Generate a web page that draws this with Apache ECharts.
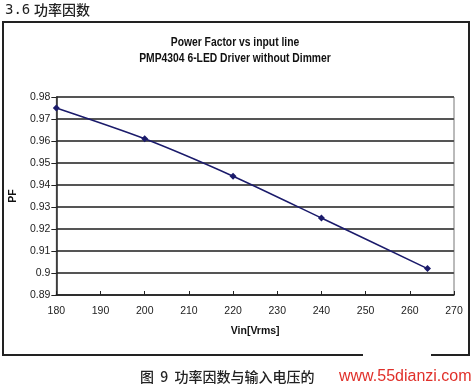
<!DOCTYPE html>
<html><head><meta charset="utf-8">
<script src="https://cdn.jsdelivr.net/npm/echarts@6/dist/echarts.min.js"></script>
<style>html,body{margin:0;padding:0;background:#fff}#c{width:472px;height:387px}</style>
</head><body><div id="c"></div>
<script>
const vin = [180, 200, 220, 240, 264];
const pf = [0.975, 0.961, 0.944, 0.925, 0.902];
const titleLines = ['Power Factor vs input line', 'PMP4304 6-LED Driver without Dimmer'];
const xName = 'Vin[Vrms]';
const yName = 'PF';
const headingNum = '3.6';
const headingText = '功率因数';
const caption = '图  9  功率因数与输入电压的';
const watermark = 'www.55dianzi.com';

const sans = '"Liberation Sans",Arial,sans-serif';
const chart = echarts.init(document.getElementById('c'));
chart.setOption({
  animation: false,
  backgroundColor: '#fff',
  grid: {left: 49, right: 18, top: 97, bottom: 92, show: true, borderColor: '#777', borderWidth: 1, backgroundColor: 'transparent'},
  xAxis: {
    type: 'value', min: 180, max: 270, interval: 10,
    name: xName, nameLocation: 'middle', nameGap: 31,
    nameTextStyle: {fontFamily: sans, fontWeight: 'bold', fontSize: 10.5, color: '#111'},
    axisLine: {lineStyle: {color: '#222', width: 1.5}},
    axisTick: {show: true, inside: true, length: 4, lineStyle: {color: '#222'}},
    axisLabel: {fontFamily: sans, fontSize: 10.5, color: '#222', margin: 11},
    splitLine: {show: false}
  },
  yAxis: {
    type: 'value', min: 0.89, max: 0.98, interval: 0.01,
    name: yName, nameLocation: 'middle', nameGap: 29, nameRotate: 90,
    nameTextStyle: {fontFamily: sans, fontWeight: 'bold', fontSize: 10.5, color: '#111'},
    axisLine: {show: true, lineStyle: {color: '#222', width: 1.5}},
    axisTick: {show: true, length: 5, lineStyle: {color: '#222'}},
    axisLabel: {fontFamily: sans, fontSize: 10.5, color: '#222', margin: 6,
      formatter: v => String(+v.toFixed(2))},
    splitLine: {show: true, lineStyle: {color: '#555', width: 2}}
  },
  series: [{
    type: 'line', data: vin.map((x, i) => [x, pf[i]]),
    smooth: 0.25, symbol: 'diamond', symbolSize: 7,
    lineStyle: {color: '#1b1b6b', width: 1.5},
    itemStyle: {color: '#1b1b6b'}
  }],
  graphic: [
    {type: 'polyline', shape: {points: [[363, 355], [3, 355], [3, 22], [469, 22], [469, 355], [431, 355]]},
      style: {stroke: '#222', lineWidth: 2, fill: null}},
    {type: 'text', x: 235, y: 43, scaleX: 0.86, style: {text: titleLines[0], font: 'bold 12px ' + sans, fill: '#111', align: 'center', verticalAlign: 'middle'}},
    {type: 'text', x: 235, y: 59, scaleX: 0.86, style: {text: titleLines[1], font: 'bold 12px ' + sans, fill: '#111', align: 'center', verticalAlign: 'middle'}},
    {type: 'text', x: 5, y: 10, style: {text: headingNum, font: '14px "DejaVu Sans Mono",monospace', fill: '#222', verticalAlign: 'middle'}},
    {type: 'text', x: 34, y: 10, style: {text: headingText, font: '500 14px "Noto Sans CJK SC"', fill: '#222', verticalAlign: 'middle'}},
    {type: 'text', x: 140, y: 377, style: {text: caption, font: '500 14px "Noto Sans CJK SC"', fill: '#222', verticalAlign: 'middle'}},
    {type: 'text', x: 339, y: 377, style: {text: watermark, font: '16px ' + sans, fill: '#e0302a', verticalAlign: 'middle'}}
  ]
});
</script></body></html>
